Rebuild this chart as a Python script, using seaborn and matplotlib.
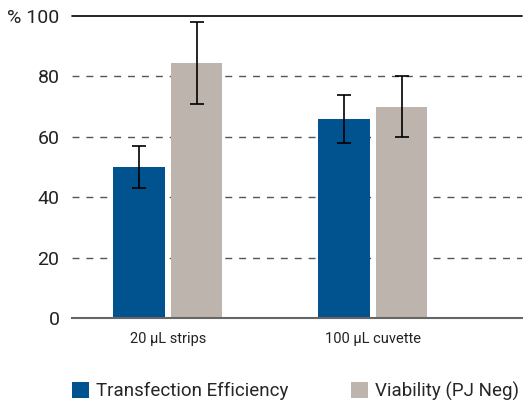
import matplotlib
matplotlib.use("Agg")
import matplotlib.pyplot as plt
import seaborn as sns
import pandas as pd
from matplotlib.patches import Patch

categories = ["20 µL strips", "100 µL cuvette"]
series = ["Transfection Efficiency", "Viability (PJ Neg)"]
efficiency = [50, 66]
efficiency_err = [7, 8]
viability = [84.5, 70]
viability_err = [13.5, 10]
yticks = [0, 20, 40, 60, 80, 100]
ytick_labels = ["0", "20", "40", "60", "80", "% 100"]
colors = ["#00538F", "#BDB5AD"]

df = pd.DataFrame({
    "category": categories * 2,
    "series": [series[0]] * 2 + [series[1]] * 2,
    "value": efficiency + viability,
    "err": efficiency_err + viability_err,
})

sns.set_style("white")
plt.rcParams["font.family"] = ["Roboto", "DejaVu Sans"]

fig = plt.figure(figsize=(5.28, 4.03), dpi=100)
ax = fig.add_axes([72 / 528, 1 - 318 / 403, 450 / 528, 302 / 403])

sns.barplot(data=df, x="category", y="value", hue="series", palette=colors,
            width=0.56, gap=0.1, errorbar=None, legend=False, ax=ax,
            saturation=1, linewidth=0)

# error bars at the bar centres
for i, s in enumerate(series):
    sub = df[df["series"] == s]
    bars = ax.containers[i]
    xs = [p.get_x() + p.get_width() / 2 for p in bars]
    ax.errorbar(xs, sub["value"], yerr=sub["err"], fmt="none", ecolor="black",
                elinewidth=1.2, capsize=4.7, capthick=1.2, zorder=5)

ax.set_xlim(-0.468, 1.727)
ax.set_ylim(0, 100)
ax.set_yticks(yticks)
ax.set_yticklabels(ytick_labels, fontsize=14, color="#222222")
ax.tick_params(axis="y", length=0, pad=9)
ax.tick_params(axis="x", length=0, pad=10, labelsize=10.5, labelcolor="#222222")
ax.set_xlabel("")
ax.set_ylabel("")

for sp in ["left", "right", "top"]:
    ax.spines[sp].set_visible(False)
ax.spines["bottom"].set_color("#666666")
ax.spines["bottom"].set_linewidth(1.5)

for y in [20, 40, 60, 80]:
    ax.axhline(y, color="#555555", lw=1, ls=(0, (5, 5)), zorder=0)
ax.axhline(100, color="black", lw=1.2, zorder=0, clip_on=False)

handles = [Patch(facecolor=c, edgecolor="none") for c in colors]
fig.legend(handles, series, loc="center left", bbox_to_anchor=(72 / 528, 1 - 391 / 403),
           ncol=2, frameon=False, fontsize=13.5, handlelength=0.9, handleheight=0.9,
           handletextpad=0.4, columnspacing=3.3, borderaxespad=0, borderpad=0)

fig.savefig("out.png", dpi=100)
